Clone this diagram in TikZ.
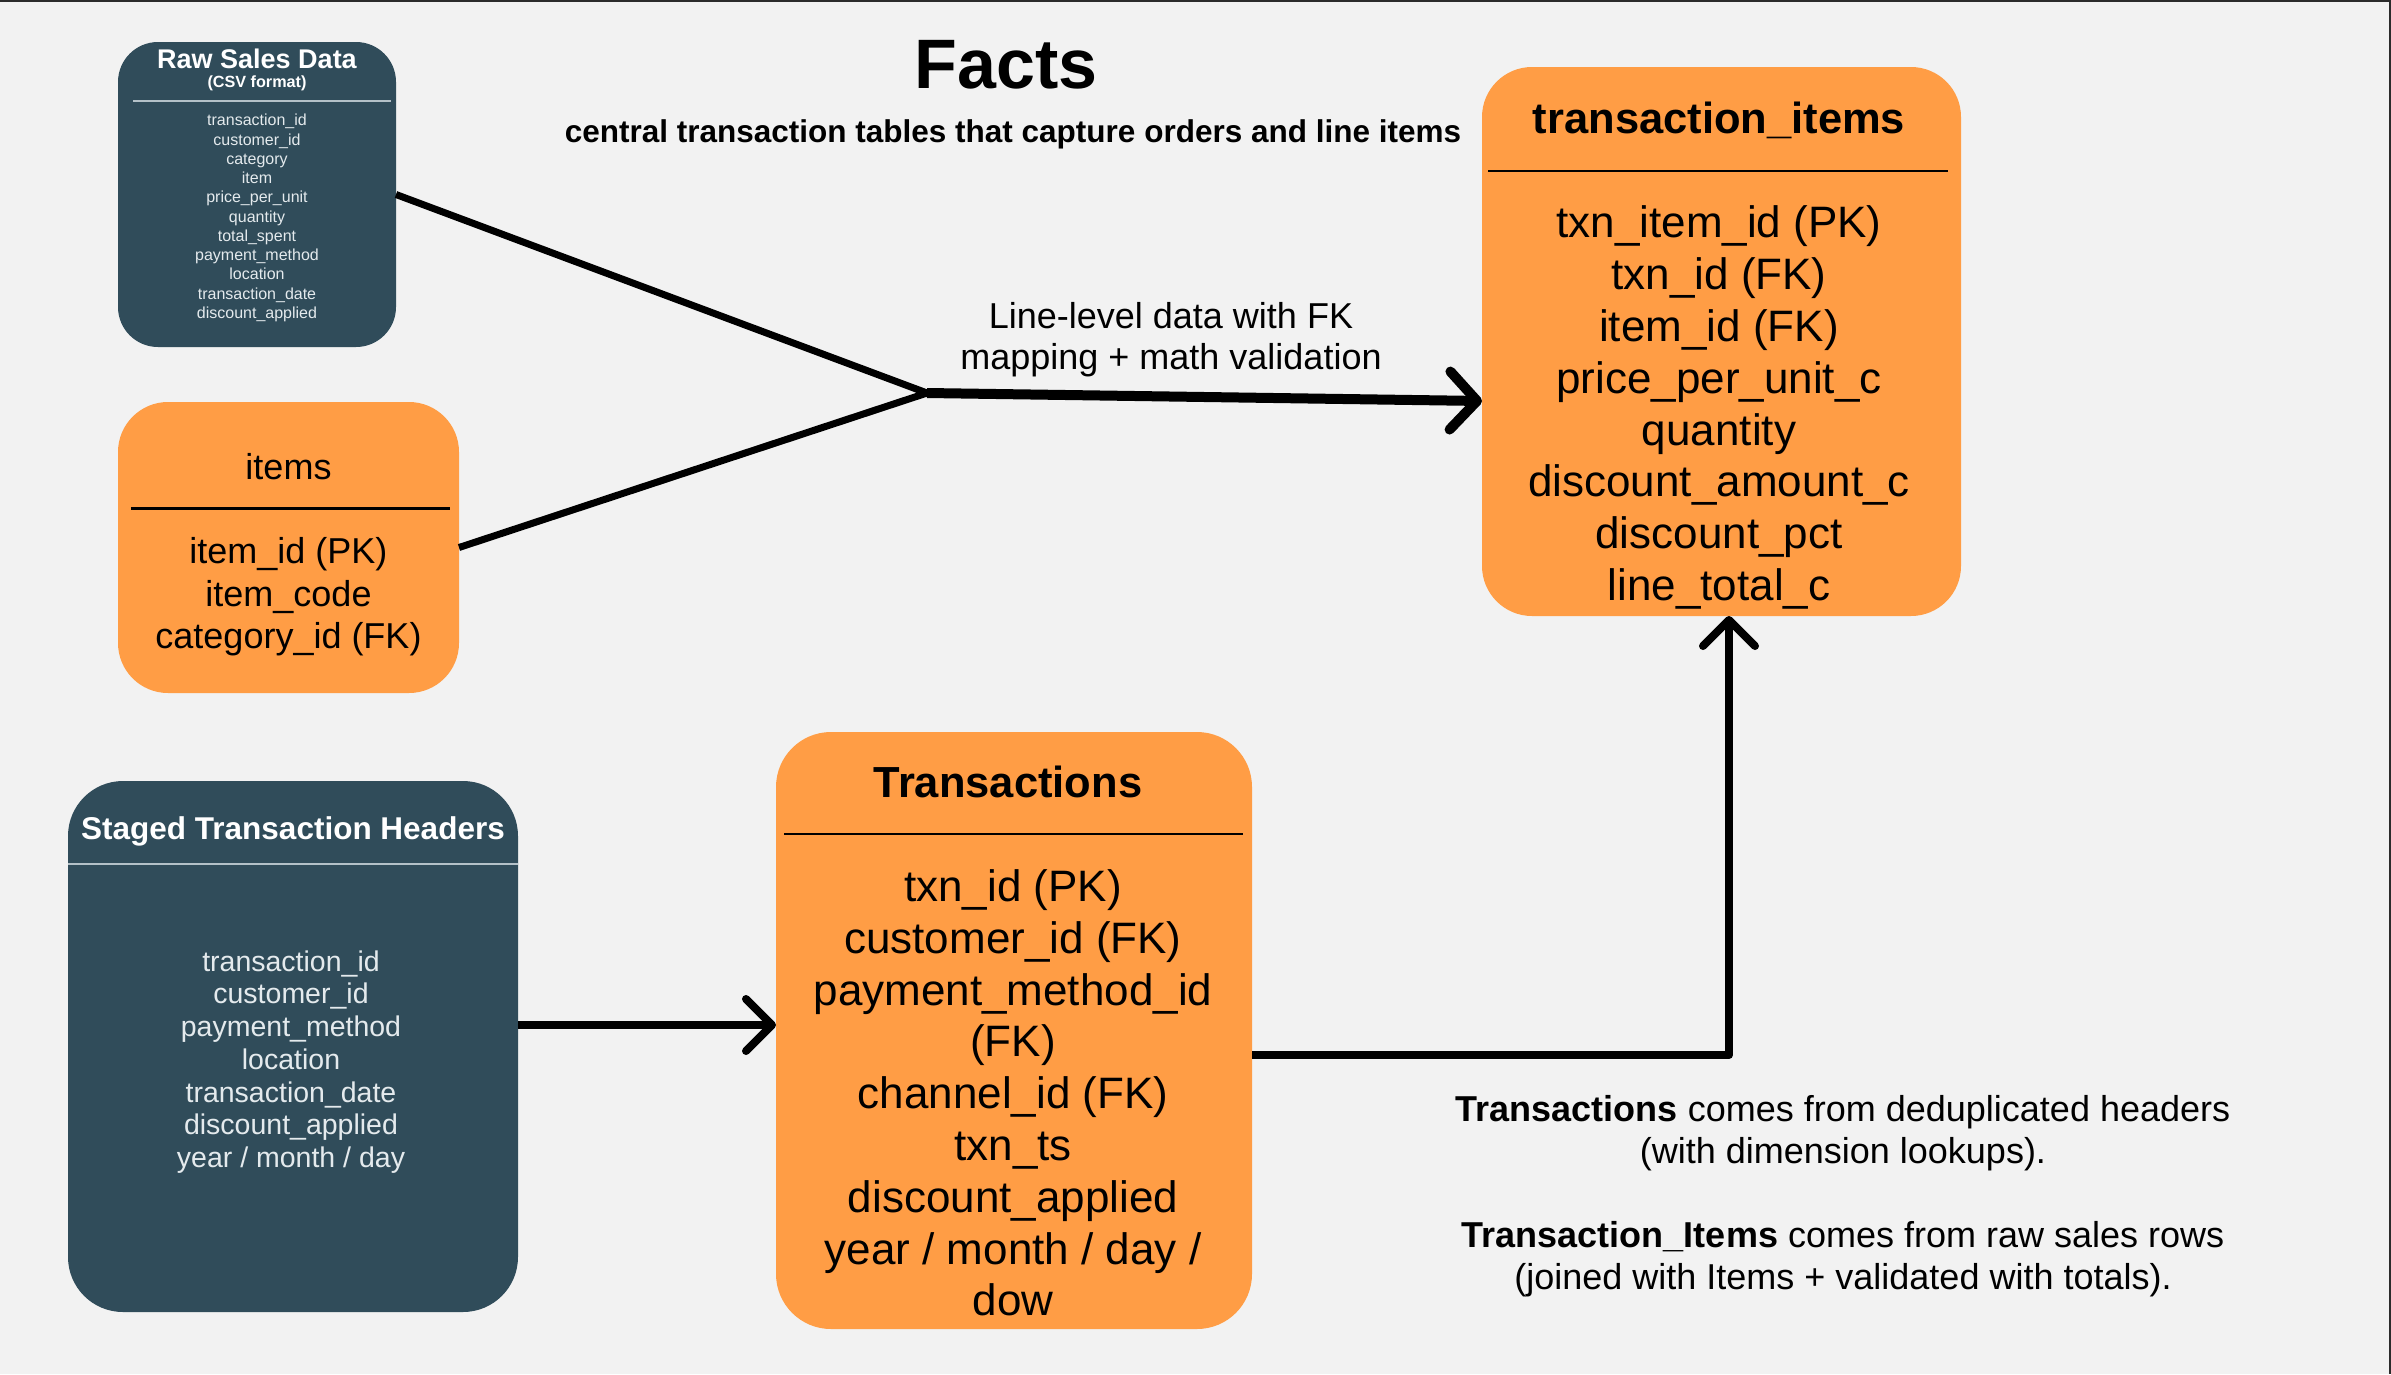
\documentclass[tikz,border=0pt]{standalone}
\usepackage{fontspec}
\setmainfont{Liberation Sans}
\usetikzlibrary{arrows.meta,calc}
\definecolor{bg}{HTML}{F2F2F2}
\definecolor{orng}{HTML}{FF9D45}
\definecolor{slate}{HTML}{304C5A}
\definecolor{pale}{HTML}{E4EAED}
\definecolor{rulec}{HTML}{B4C1C8}
\definecolor{frame}{HTML}{2B2B2B}
\begin{document}
\begin{tikzpicture}[x=1pt,y=-1pt,
  obox/.style={fill=orng, draw=none, inner sep=0pt, outer sep=0pt},
  dbox/.style={fill=slate, draw=none, inner sep=0pt, outer sep=0pt},
  txt/.style={inner sep=0pt, align=center},
  conn/.style={draw=black, line width=8pt, line join=round},
  tipA/.style={-{Straight Barb[length=26pt,width=52pt,round]}},
  tipB/.style={-{Straight Barb[length=27pt,width=58pt,round]}},
  sepdark/.style={draw=black, line width=2.5pt},
  seplight/.style={draw=rulec, line width=1.5pt},
]
\useasboundingbox (0,0) rectangle (2391,1374);
\fill[bg] (0,0) rectangle (2391,1374);
\draw[frame, line width=2.5pt] (0,1.2) -- (2389.8,1.2) -- (2389.8,1374);

% boxes
\node[dbox, rounded corners=40pt, minimum width=278pt, minimum height=305pt] (raw) at (257,194.5) {};
\node[obox, rounded corners=50pt, minimum width=341pt, minimum height=291pt] (items) at (288.5,547.5) {};
\node[dbox, rounded corners=55pt, minimum width=450pt, minimum height=531pt] (staged) at (293,1046.5) {};
\node[obox, rounded corners=55pt, minimum width=476pt, minimum height=597pt] (tx) at (1014,1030.5) {};
\node[obox, rounded corners=50pt, minimum width=479pt, minimum height=549pt] (ti) at (1721.5,341.5) {};

% separators
\draw[seplight] (133,101) -- (391,101);
\draw[sepdark] (131,508.5) -- (450,508.5);
\draw[seplight] (68,864) -- (518,864);
\draw[sepdark] (784,834) -- (1243,834);
\draw[sepdark] (1488,171) -- (1948,171);

% titles
\node[txt, anchor=base, font=\bfseries\fontsize{70}{84}\selectfont] (facts) at (1006,88) {Facts};
\node[txt, anchor=base, font=\bfseries\fontsize{31.5}{38}\selectfont] (sub) at (1013,142) {central transaction tables that capture orders and line items};

% raw sales data
\node[txt, anchor=base, text=white, font=\bfseries\fontsize{27}{32}\selectfont] (rawt) at (257,68) {Raw Sales Data};
\node[txt, anchor=base, text=white, font=\bfseries\fontsize{16.2}{19}\selectfont] (raws) at (257,87.5) {(CSV format)};
\node[txt, text=pale, font=\fontsize{16}{19.27}\selectfont] (rawb) at (257,218) {transaction\_id\\customer\_id\\category\\item\\price\_per\_unit\\quantity\\total\_spent\\payment\_method\\location\\transaction\_date\\discount\_applied};

% items
\node[txt, anchor=base, font=\fontsize{36}{43}\selectfont] (itemst) at (288.5,479) {items};
\node[txt, font=\fontsize{36}{42.5}\selectfont] (itemsb) at (288.5,597) {item\_id (PK)\\item\_code\\category\_id (FK)};

% staged
\node[txt, text=white, font=\bfseries\fontsize{31.5}{38}\selectfont] (stagedt) at (293,831.5) {Staged Transaction Headers};
\node[txt, text=pale, font=\fontsize{28.5}{32.7}\selectfont] (stagedb) at (291,1062) {transaction\_id\\customer\_id\\payment\_method\\location\\transaction\_date\\discount\_applied\\year / month / day};

% transactions
\node[txt, font=\bfseries\fontsize{43.5}{52}\selectfont] (txt) at (1008,782) {Transactions};
\node[txt, font=\fontsize{44}{51.8}\selectfont] (txb) at (1013,1093) {txn\_id (PK)\\customer\_id (FK)\\payment\_method\_id\\(FK)\\channel\_id (FK)\\txn\_ts\\discount\_applied\\year / month / day /\\dow};

% transaction items
\node[txt, font=\bfseries\fontsize{43.5}{52}\selectfont] (tit) at (1719,120.5) {transaction\_items};
\node[txt, font=\fontsize{44}{51.9}\selectfont] (tib) at (1719,407.5) {txn\_item\_id (PK)\\txn\_id (FK)\\item\_id (FK)\\price\_per\_unit\_c\\quantity\\discount\_amount\_c\\discount\_pct\\line\_total\_c};

% edge label
\node[txt, font=\fontsize{36}{41}\selectfont] (lbl) at (1171,339.5) {Line-level data with FK\\mapping + math validation};

% notes
\node[txt, font=\fontsize{36}{42}\selectfont] (note1) at (1843,1133) {\textbf{Transactions} comes from deduplicated headers\\(with dimension lookups).};
\node[txt, font=\fontsize{36}{42}\selectfont] (note2) at (1843,1259.5) {\textbf{Transaction\_Items} comes from raw sales rows\\(joined with Items + validated with totals).};

% connectors
\coordinate (join) at (927,393);
\coordinate (tiin) at (1482,401);
\draw[conn, line width=7pt] (raw.east) -- (join) -- (items.east);
\draw[conn, line width=10pt, tipB] (join) -- (tiin);
\draw[conn, tipA] (staged.east |- 0,1025) -- (tx.west |- 0,1025);
\draw[conn, tipA] (tx.east |- 0,1055) -| ($(ti.south)+(7.5,0)$);
\end{tikzpicture}
\end{document}
